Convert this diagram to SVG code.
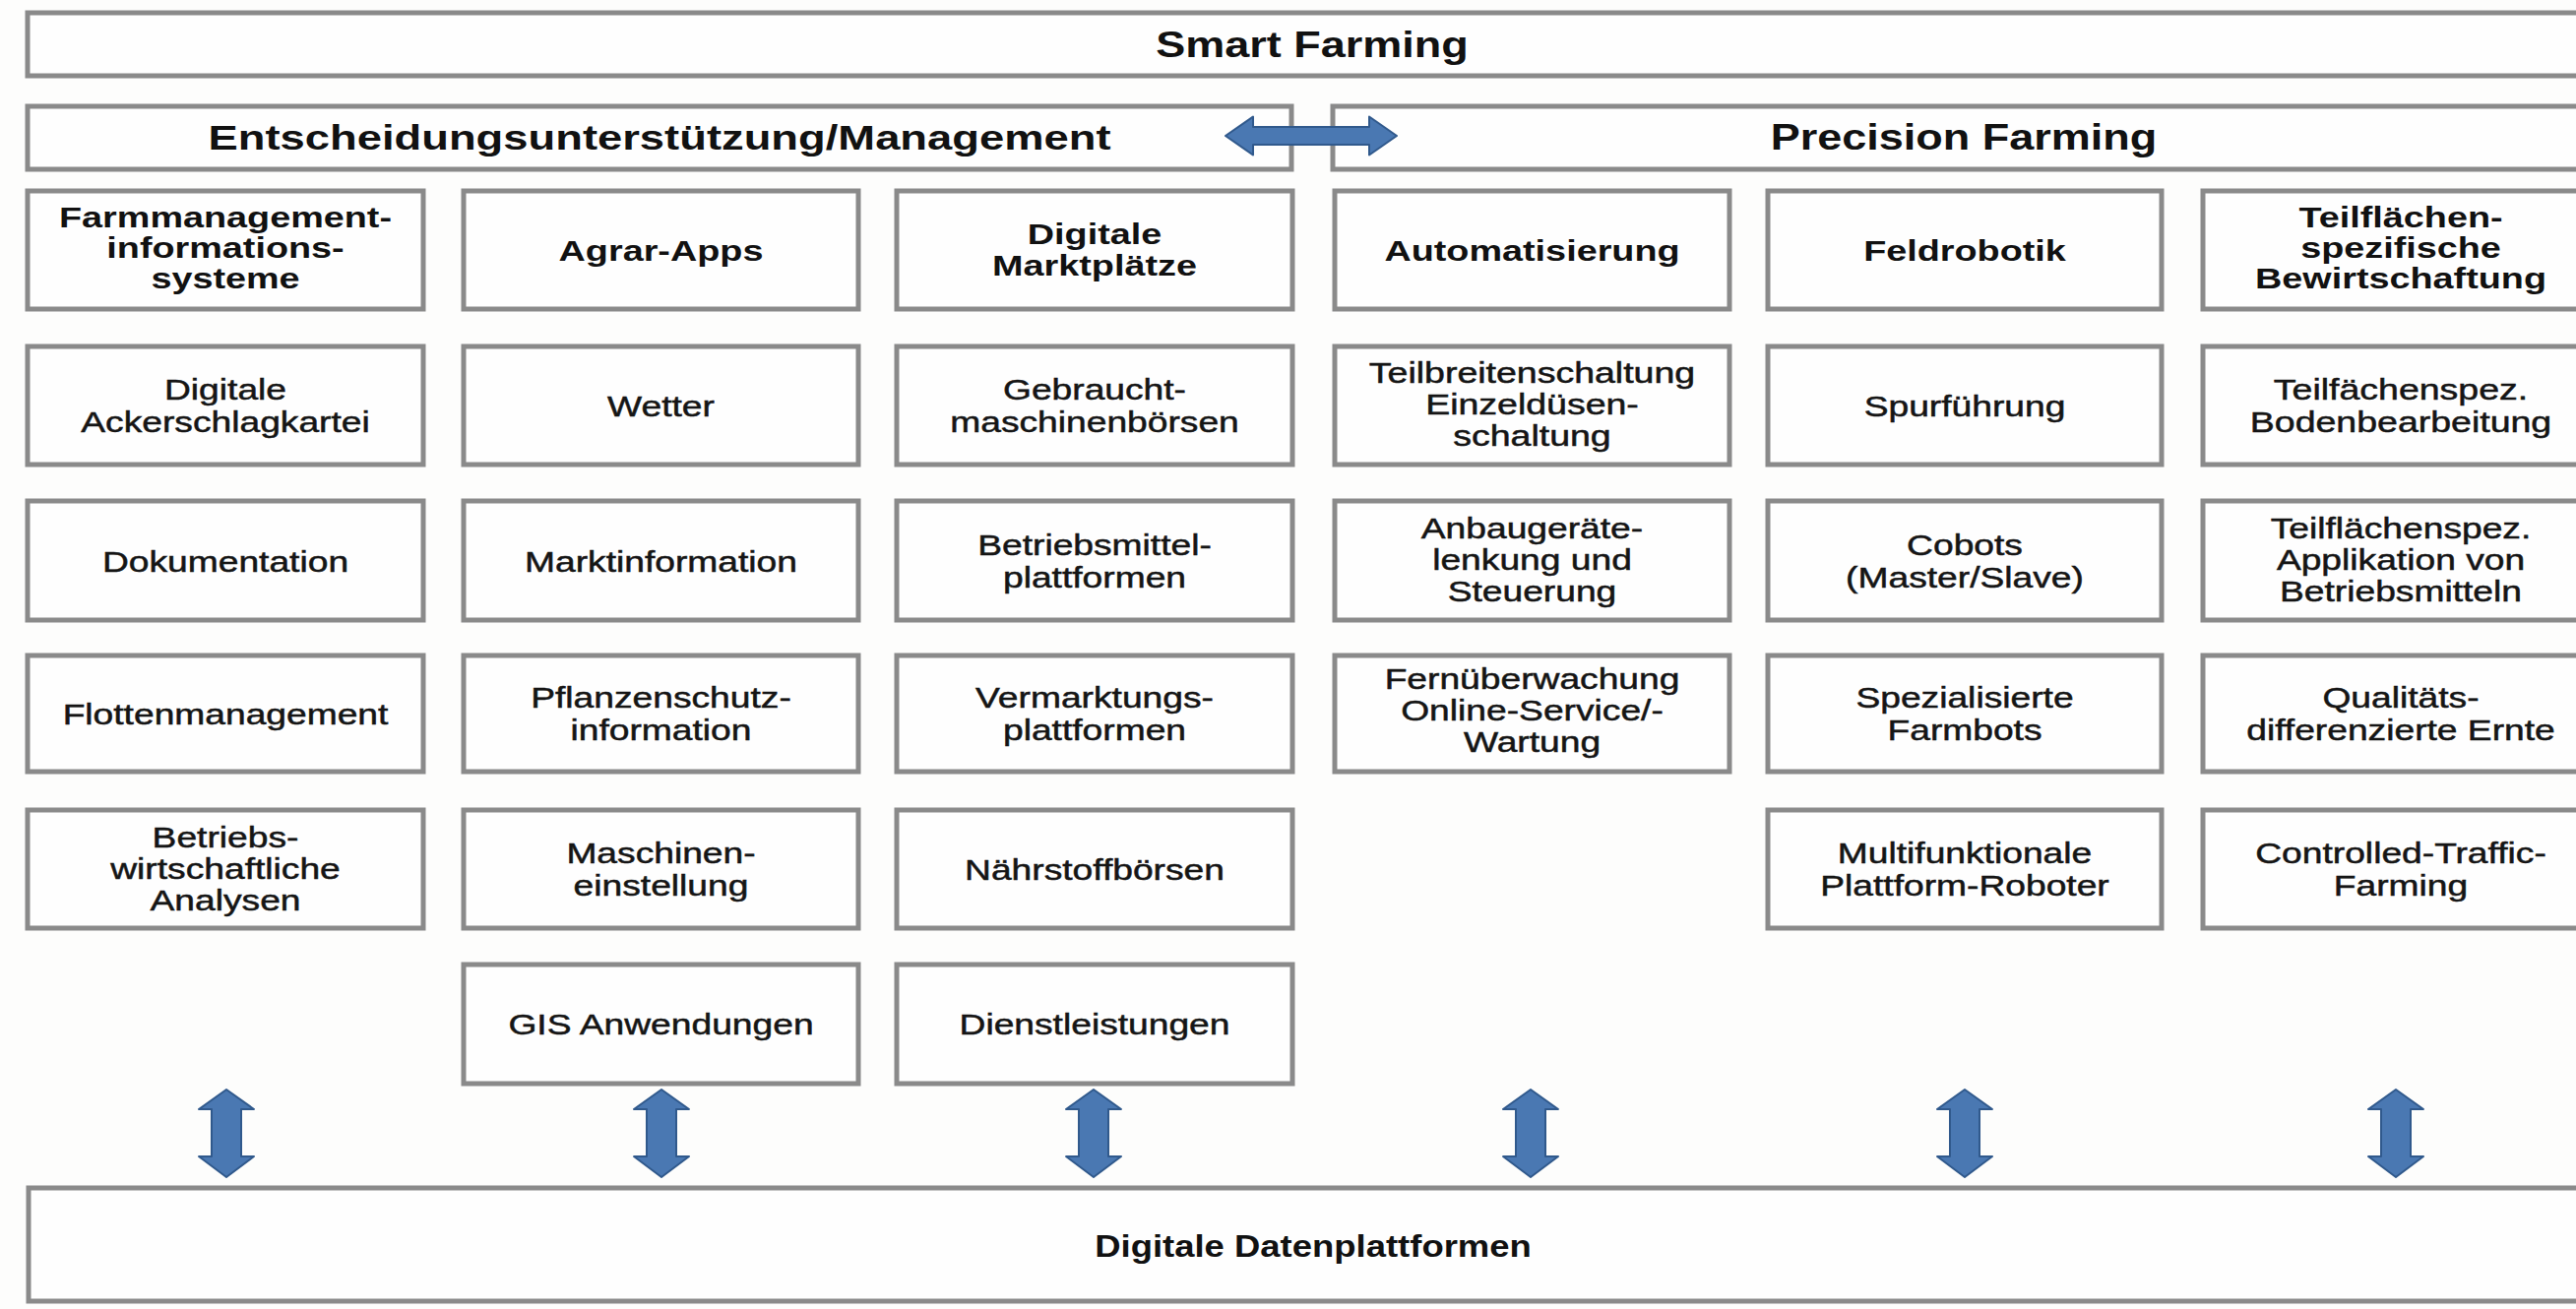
<svg xmlns="http://www.w3.org/2000/svg" xmlns:xlink="http://www.w3.org/1999/xlink" width="2617" height="1330" viewBox="0 0 2617 1330">
  <style>
    .box { fill: #fefefe; stroke: #8a8a8a; stroke-width: 5; }
    .band { font-family: "Liberation Sans", Arial, sans-serif; font-weight: bold; font-size: 36px; fill: #111; text-anchor: middle; }
    .hd { font-family: "Liberation Sans", Arial, sans-serif; font-weight: bold; font-size: 30px; fill: #111; text-anchor: middle; }
    .it { font-family: "Liberation Sans", Arial, sans-serif; font-size: 30px; fill: #151515; stroke: #151515; stroke-width: 0.5; text-anchor: middle; }
    .arrow { fill: #4a78b2; stroke: #30598c; stroke-width: 2; stroke-linejoin: round; }
  </style>
  <defs>
    <path id="varrow" d="M0,1107 L28,1127 L15,1127 L15,1175 L28,1175 L0,1196 L-28,1175 L-15,1175 L-15,1127 L-28,1127 Z"/>
  </defs>

  <rect x="0" y="0" width="2617" height="1330" fill="#fdfdfc"/>

  <!-- top level bands -->
  <g id="smart-farming">
    <rect class="box" x="28" y="13" width="2612" height="64"/>
    <text class="band" transform="translate(1333 58) scale(1.25 1)">Smart Farming</text>
  </g>
  <g id="entscheidung">
    <rect class="box" x="28" y="108" width="1284" height="64"/>
    <text class="band" transform="translate(670 152) scale(1.26 1)">Entscheidungsunterstützung/Management</text>
  </g>
  <g id="precision">
    <rect class="box" x="1354" y="108" width="1286" height="64"/>
    <text class="band" transform="translate(1995 152) scale(1.25 1)">Precision Farming</text>
  </g>
  <g id="datenplattformen">
    <rect class="box" x="29" y="1207" width="2611" height="115"/>
    <text class="band" style="font-size:32px" transform="translate(1334 1277) scale(1.14 1)">Digitale Datenplattformen</text>
  </g>

  <!-- column 1 -->
  <g id="c1r1">
    <rect class="box" x="28" y="194" width="402" height="120"/>
    <text class="hd" transform="translate(229 254) scale(1.26 1)"><tspan x="0" y="-23">Farmmanagement-</tspan><tspan x="0" y="8">informations-</tspan><tspan x="0" y="39">systeme</tspan></text>
  </g>
  <g id="c1r2">
    <rect class="box" x="28" y="352" width="402" height="120"/>
    <text class="it" transform="translate(229 412) scale(1.24 1)"><tspan x="0" y="-6">Digitale</tspan><tspan x="0" y="27">Ackerschlagkartei</tspan></text>
  </g>
  <g id="c1r3">
    <rect class="box" x="28" y="509" width="402" height="121"/>
    <text class="it" transform="translate(229 570) scale(1.24 1)"><tspan x="0" y="11">Dokumentation</tspan></text>
  </g>
  <g id="c1r4">
    <rect class="box" x="28" y="666" width="402" height="118"/>
    <text class="it" transform="translate(229 725) scale(1.24 1)"><tspan x="0" y="11">Flottenmanagement</tspan></text>
  </g>
  <g id="c1r5">
    <rect class="box" x="28" y="823" width="402" height="120"/>
    <text class="it" transform="translate(229 883) scale(1.24 1)"><tspan x="0" y="-22">Betriebs-</tspan><tspan x="0" y="10">wirtschaftliche</tspan><tspan x="0" y="42">Analysen</tspan></text>
  </g>

  <!-- column 2 -->
  <g id="c2r1">
    <rect class="box" x="471" y="194" width="401" height="120"/>
    <text class="hd" transform="translate(671.5 254) scale(1.26 1)"><tspan x="0" y="11">Agrar-Apps</tspan></text>
  </g>
  <g id="c2r2">
    <rect class="box" x="471" y="352" width="401" height="120"/>
    <text class="it" transform="translate(671.5 412) scale(1.24 1)"><tspan x="0" y="11">Wetter</tspan></text>
  </g>
  <g id="c2r3">
    <rect class="box" x="471" y="509" width="401" height="121"/>
    <text class="it" transform="translate(671.5 570) scale(1.24 1)"><tspan x="0" y="11">Marktinformation</tspan></text>
  </g>
  <g id="c2r4">
    <rect class="box" x="471" y="666" width="401" height="118"/>
    <text class="it" transform="translate(671.5 725) scale(1.24 1)"><tspan x="0" y="-6">Pflanzenschutz-</tspan><tspan x="0" y="27">information</tspan></text>
  </g>
  <g id="c2r5">
    <rect class="box" x="471" y="823" width="401" height="120"/>
    <text class="it" transform="translate(671.5 883) scale(1.24 1)"><tspan x="0" y="-6">Maschinen-</tspan><tspan x="0" y="27">einstellung</tspan></text>
  </g>
  <g id="c2r6">
    <rect class="box" x="471" y="980" width="401" height="121"/>
    <text class="it" transform="translate(671.5 1040) scale(1.24 1)"><tspan x="0" y="11">GIS Anwendungen</tspan></text>
  </g>

  <!-- column 3 -->
  <g id="c3r1">
    <rect class="box" x="911" y="194" width="402" height="120"/>
    <text class="hd" transform="translate(1112 254) scale(1.26 1)"><tspan x="0" y="-6">Digitale</tspan><tspan x="0" y="26">Marktplätze</tspan></text>
  </g>
  <g id="c3r2">
    <rect class="box" x="911" y="352" width="402" height="120"/>
    <text class="it" transform="translate(1112 412) scale(1.24 1)"><tspan x="0" y="-6">Gebraucht-</tspan><tspan x="0" y="27">maschinenbörsen</tspan></text>
  </g>
  <g id="c3r3">
    <rect class="box" x="911" y="509" width="402" height="121"/>
    <text class="it" transform="translate(1112 570) scale(1.24 1)"><tspan x="0" y="-6">Betriebsmittel-</tspan><tspan x="0" y="27">plattformen</tspan></text>
  </g>
  <g id="c3r4">
    <rect class="box" x="911" y="666" width="402" height="118"/>
    <text class="it" transform="translate(1112 725) scale(1.24 1)"><tspan x="0" y="-6">Vermarktungs-</tspan><tspan x="0" y="27">plattformen</tspan></text>
  </g>
  <g id="c3r5">
    <rect class="box" x="911" y="823" width="402" height="120"/>
    <text class="it" transform="translate(1112 883) scale(1.24 1)"><tspan x="0" y="11">Nährstoffbörsen</tspan></text>
  </g>
  <g id="c3r6">
    <rect class="box" x="911" y="980" width="402" height="121"/>
    <text class="it" transform="translate(1112 1040) scale(1.24 1)"><tspan x="0" y="11">Dienstleistungen</tspan></text>
  </g>

  <!-- column 4 -->
  <g id="c4r1">
    <rect class="box" x="1356" y="194" width="401" height="120"/>
    <text class="hd" transform="translate(1556.5 254) scale(1.26 1)"><tspan x="0" y="11">Automatisierung</tspan></text>
  </g>
  <g id="c4r2">
    <rect class="box" x="1356" y="352" width="401" height="120"/>
    <text class="it" transform="translate(1556.5 412) scale(1.25 1)"><tspan x="0" y="-23">Teilbreitenschaltung</tspan><tspan x="0" y="9">Einzeldüsen-</tspan><tspan x="0" y="41">schaltung</tspan></text>
  </g>
  <g id="c4r3">
    <rect class="box" x="1356" y="509" width="401" height="121"/>
    <text class="it" transform="translate(1556.5 570) scale(1.24 1)"><tspan x="0" y="-23">Anbaugeräte-</tspan><tspan x="0" y="9">lenkung und</tspan><tspan x="0" y="41">Steuerung</tspan></text>
  </g>
  <g id="c4r4">
    <rect class="box" x="1356" y="666" width="401" height="118"/>
    <text class="it" transform="translate(1556.5 725) scale(1.24 1)"><tspan x="0" y="-25">Fernüberwachung</tspan><tspan x="0" y="7">Online-Service/-</tspan><tspan x="0" y="39">Wartung</tspan></text>
  </g>

  <!-- column 5 -->
  <g id="c5r1">
    <rect class="box" x="1796" y="194" width="400" height="120"/>
    <text class="hd" transform="translate(1996 254) scale(1.26 1)"><tspan x="0" y="11">Feldrobotik</tspan></text>
  </g>
  <g id="c5r2">
    <rect class="box" x="1796" y="352" width="400" height="120"/>
    <text class="it" transform="translate(1996 412) scale(1.24 1)"><tspan x="0" y="11">Spurführung</tspan></text>
  </g>
  <g id="c5r3">
    <rect class="box" x="1796" y="509" width="400" height="121"/>
    <text class="it" transform="translate(1996 570) scale(1.24 1)"><tspan x="0" y="-6">Cobots</tspan><tspan x="0" y="27">(Master/Slave)</tspan></text>
  </g>
  <g id="c5r4">
    <rect class="box" x="1796" y="666" width="400" height="118"/>
    <text class="it" transform="translate(1996 725) scale(1.24 1)"><tspan x="0" y="-6">Spezialisierte</tspan><tspan x="0" y="27">Farmbots</tspan></text>
  </g>
  <g id="c5r5">
    <rect class="box" x="1796" y="823" width="400" height="120"/>
    <text class="it" transform="translate(1996 883) scale(1.24 1)"><tspan x="0" y="-6">Multifunktionale</tspan><tspan x="0" y="27">Plattform-Roboter</tspan></text>
  </g>

  <!-- column 6 -->
  <g id="c6r1">
    <rect class="box" x="2238" y="194" width="402" height="120"/>
    <text class="hd" transform="translate(2439 254) scale(1.26 1)"><tspan x="0" y="-23">Teilflächen-</tspan><tspan x="0" y="8">spezifische</tspan><tspan x="0" y="39">Bewirtschaftung</tspan></text>
  </g>
  <g id="c6r2">
    <rect class="box" x="2238" y="352" width="402" height="120"/>
    <text class="it" transform="translate(2439 412) scale(1.25 1)"><tspan x="0" y="-6">Teilfächenspez.</tspan><tspan x="0" y="27">Bodenbearbeitung</tspan></text>
  </g>
  <g id="c6r3">
    <rect class="box" x="2238" y="509" width="402" height="121"/>
    <text class="it" transform="translate(2439 570) scale(1.24 1)"><tspan x="0" y="-23">Teilflächenspez.</tspan><tspan x="0" y="9">Applikation von</tspan><tspan x="0" y="41">Betriebsmitteln</tspan></text>
  </g>
  <g id="c6r4">
    <rect class="box" x="2238" y="666" width="402" height="118"/>
    <text class="it" transform="translate(2439 725) scale(1.24 1)"><tspan x="0" y="-6">Qualitäts-</tspan><tspan x="0" y="27">differenzierte Ernte</tspan></text>
  </g>
  <g id="c6r5">
    <rect class="box" x="2238" y="823" width="402" height="120"/>
    <text class="it" transform="translate(2439 883) scale(1.24 1)"><tspan x="0" y="-6">Controlled-Traffic-</tspan><tspan x="0" y="27">Farming</tspan></text>
  </g>

  <!-- connectors: double-headed block arrows -->
  <g id="connectors">
    <path class="arrow" d="M1245,138 L1273,118.5 L1273,129 L1391,129 L1391,118.5 L1419,138 L1391,157.5 L1391,147 L1273,147 L1273,157.5 Z"/>
    <use class="arrow" xlink:href="#varrow" x="230"/>
    <use class="arrow" xlink:href="#varrow" x="672"/>
    <use class="arrow" xlink:href="#varrow" x="1111"/>
    <use class="arrow" xlink:href="#varrow" x="1555"/>
    <use class="arrow" xlink:href="#varrow" x="1996"/>
    <use class="arrow" xlink:href="#varrow" x="2434"/>
  </g>
</svg>
